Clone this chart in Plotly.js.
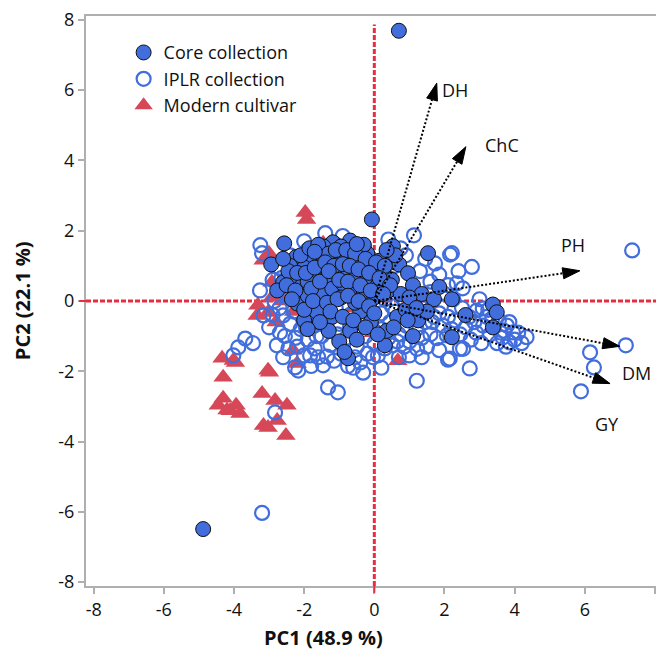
<!DOCTYPE html>
<html>
<head>
<meta charset="utf-8">
<script src="https://cdn.plot.ly/plotly-3.0.1.min.js"></script>
<style>html,body{margin:0;padding:0;background:#fff;}#chart{width:656px;height:650px;}</style>
</head>
<body>
<div id="chart"></div>
<script>
// ---- Data ----
var coreX = [0.70,-4.88,-0.07,-2.57,-2.23,-2.94,0.53,1.53,0.71,0.96,
  -1.18,-0.69,-0.95,-0.45,-1.45,-0.20,0.15,-1.75,-2.00,-2.60,
  -2.77,-2.20,-2.35,-2.05,-1.80,-1.55,-1.25,-0.85,-0.60,-0.35,
  -0.05,0.25,0.50,-1.65,-1.35,-1.05,-0.75,-0.50,-0.20,0.10,
  0.40,-1.90,-1.50,-1.20,-0.90,-0.60,-0.30,0.00,0.75,1.10,
  1.35,1.70,2.21,3.38,3.49,3.38,2.21,1.10,0.30,-0.69,
  -0.75,-1.20,-1.65,-2.00,-0.40,0.65,1.25,-1.00,-1.45,-0.30,
  -1.90,-0.95,-0.10,0.90,1.50,-1.30,-2.40,-0.55,0.35,1.85,
  -2.10,-1.85,-1.60,-1.30,-1.10,-0.80,-0.55,-0.25,0.05,0.30,
  -2.45,-2.20,-1.95,-1.70,-1.40,-1.15,-0.90,-0.70,-0.45,-0.15,
  0.15,0.45,-2.50,-2.25,-1.80,-1.55,-1.30,-1.00,-0.75,-0.40,
  -0.10,0.25,-2.35,-2.00,-1.75,-1.35,-1.05,-0.75,-0.45,-0.15,
  -1.55,-1.25,-0.90,-0.60,-0.25,0.10,0.55,0.95,-0.50,-0.85,
  0.60,0.35,-0.50,-1.70,-2.60,1.00,1.20,2.60,0.00,-1.90];
var coreY = [7.69,-6.49,2.32,1.64,1.25,1.04,1.56,1.36,1.04,0.79,
  1.67,1.72,1.55,1.50,1.45,1.35,1.15,1.20,0.95,0.53,
  0.30,-0.07,0.70,0.45,0.75,1.00,1.20,1.30,1.20,1.05,
  0.95,0.80,0.60,0.45,0.65,0.85,0.90,0.70,0.60,0.45,
  0.30,0.15,0.20,0.35,0.50,0.35,0.20,0.10,0.20,0.45,
  0.20,0.05,0.05,-0.10,-0.32,-0.75,-1.03,-1.00,-1.26,-0.85,
  -1.63,-0.45,-0.30,-0.55,-0.30,-0.45,-0.55,-1.15,1.55,1.60,
  0.55,0.10,-0.60,-0.25,-0.30,-0.85,1.00,-0.05,-0.85,0.40,
  1.30,1.50,1.60,1.35,1.45,1.45,1.35,1.20,1.10,1.00,
  0.85,0.80,0.80,0.95,1.10,1.00,1.05,1.00,0.90,0.80,
  0.65,0.45,0.45,0.30,0.35,0.55,0.85,0.60,0.55,0.45,
  0.30,0.20,0.05,-0.25,0.00,-0.05,0.05,0.15,0.00,-0.15,
  -0.60,-0.30,-0.45,-0.55,-0.75,-0.95,-0.75,-0.55,-1.10,-1.45,
  1.30,1.45,1.62,1.40,1.20,0.10,-0.20,-0.40,-0.35,-0.80];

var iplrX = [7.35,6.15,6.26,7.17,5.89,-3.20,-2.83,1.21,2.72,2.10,
  2.53,1.22,-1.04,-1.32,-3.26,-3.68,-3.46,-3.88,-4.02,-3.16,
  -2.78,-3.25,-3.20,-1.40,1.13,1.73,2.21,2.16,2.78,2.35,
  2.52,3.09,2.92,3.78,3.95,4.34,3.66,3.86,2.15,2.44,
  1.50,1.78,2.07,-2.60,-2.26,-2.17,-1.83,-1.60,-1.35,-1.46,
  -0.32,-0.60,-0.04,0.53,-2.69,-2.60,3.70,3.55,4.00,3.20,
  -2.90,-2.70,-2.45,-2.30,-2.10,-1.90,-1.70,-1.50,-1.25,-1.00,
  -0.80,-0.50,-0.25,0.00,0.20,0.45,0.70,0.90,1.20,1.45,
  1.70,1.95,2.30,2.60,2.85,2.50,1.90,1.30,0.80,0.50,
  0.20,-0.20,-0.70,-1.10,-1.50,-1.90,-2.40,-2.20,-1.70,-0.95,
  -0.55,-0.20,0.10,0.40,0.85,1.00,1.60,2.00,1.60,1.30,
  0.90,0.40,-0.90,-1.90,-2.40,-2.85,-2.55,-3.00,2.40,2.90,
  3.30,3.05,3.50,-1.20,-0.30,0.60,-0.60,-1.60,0.05,-2.00,
  0.60,0.90,1.15,1.40,1.65,1.85,2.10,2.20,2.45,2.70,
  2.75,3.10,3.35,3.60,3.85,4.10,4.20,3.75,1.35,1.00,
  0.65,0.30,0.00,-0.35,-0.70,-1.05,-1.35,-1.65,-1.95,-2.25,
  -2.45,-2.00,-1.80,-1.15,-0.75,-0.40,0.20,0.70,1.35,1.85,
  -2.70,-2.90,-2.50,-2.65,-2.20,-1.10,-0.30,0.75,1.45,1.85,
  2.10,2.25,1.60,1.10,0.30,-0.40,-1.30,-2.00,3.00,3.25];
var iplrY = [1.44,-1.46,-1.89,-1.26,-2.57,-6.03,-3.17,-2.27,-1.92,-1.67,
  -1.36,-1.36,-2.60,-2.46,0.30,-1.07,-1.20,-1.32,-1.55,-0.41,
  -1.26,1.59,1.36,1.93,1.87,1.07,1.36,1.32,0.97,0.50,
  0.36,-0.21,-0.27,-0.70,-0.89,-1.03,-1.04,-1.18,-1.64,-1.36,
  -1.30,-1.06,-0.98,-1.60,-1.89,-1.98,-1.55,-1.60,-1.58,-1.83,
  -2.04,-1.90,-1.60,-1.26,-0.90,-0.41,-0.85,-0.55,-1.10,-0.45,
  0.60,0.95,0.15,-0.30,-0.80,-1.10,-0.70,-1.00,-1.25,-0.65,
  -1.05,-1.30,-1.00,-1.20,-0.80,-0.60,-0.95,-0.70,-0.80,-0.60,
  -0.45,-0.70,-0.55,-0.75,-0.60,-0.20,-0.15,0.00,0.10,-0.15,
  -0.35,-0.45,-0.40,-0.20,-0.35,-0.45,-0.65,-1.30,-1.35,-1.50,
  -1.60,-1.50,-1.55,-1.05,-1.30,-1.55,-0.95,0.20,0.55,0.85,
  1.30,1.75,1.85,1.45,1.30,0.00,-1.00,-0.75,0.85,-0.90,
  -0.95,-1.20,-1.20,0.90,1.20,1.00,0.60,0.70,0.65,1.70,
  -0.30,-0.45,-0.35,-0.20,-0.60,-0.35,-0.45,-0.80,-0.95,-0.45,
  -1.10,-0.70,-0.55,-0.90,-0.60,-0.90,-1.20,-1.30,-1.05,-1.15,
  -1.15,-1.35,-0.85,-0.65,-0.75,-0.95,-0.75,-1.00,-0.75,-1.05,
  -1.35,-1.55,-1.85,-1.70,-1.85,-1.75,-1.90,-1.60,-1.60,-1.40,
  -0.20,-0.40,0.40,0.65,1.05,1.60,1.55,1.50,1.20,0.75,
  0.45,0.05,0.25,0.30,0.05,-0.05,0.15,0.30,0.05,-0.25];

var modernX = [-4.34,-4.02,-3.96,-4.31,-2.99,-4.31,-4.45,-4.11,-3.94,-3.83,
  -4.20,-3.20,-2.83,-2.49,-3.16,-3.03,-2.77,-2.52,-2.32,-2.20,
  0.67,-1.97,-1.93,-1.46,-3.17,-2.92,-2.92,-3.32,-3.34,-3.03,
  -3.03,-0.03,-2.30,-1.50,-0.60,-2.60,-2.80,-3.00];
var modernY = [-1.63,-1.69,-1.75,-2.17,-2.03,-2.77,-2.97,-3.12,-2.97,-3.20,
  -3.10,-2.63,-2.83,-2.97,-3.54,-3.60,-3.40,-3.83,-1.40,-1.78,
  -1.70,2.52,2.32,1.64,1.16,0.53,0.10,-0.12,-0.41,-0.33,
  -1.97,-0.90,-0.30,-0.50,-0.20,0.00,-0.60,1.35];

var loadNames = ["DH","ChC","PH","DM","GY"];
var loadX = [1.78,2.61,5.86,7.00,6.72];
var loadY = [6.20,4.39,0.86,-1.29,-2.35];

var tickVals = [-8,-6,-4,-2,0,2,4,6,8];
var tickText = ["-8","-6","-4","-2","0","2","4","6","8"];

var seriesNames = ["Core collection","IPLR collection","Modern cultivar"];

// ---- Styles ----
var FONT = '"Open Sans", "Noto Sans", sans-serif';
var BLUE = 'rgb(65,110,220)';
var RED = 'rgb(214,72,88)';
var DASHRED = 'rgb(232,45,65)';
var AXGRAY = 'rgb(175,175,175)';

var traces = [];
traces.push({
  type:'scatter', mode:'markers', name:seriesNames[2], legendrank:3,
  x:modernX, y:modernY,
  marker:{symbol:'triangle-up', size:17, color:RED, line:{width:0}}
});
traces.push({
  type:'scatter', mode:'markers', name:seriesNames[1], legendrank:2,
  x:iplrX, y:iplrY,
  marker:{symbol:'circle-open', size:14, color:BLUE, line:{width:2.2, color:BLUE}}
});
traces.push({
  type:'scatter', mode:'markers', name:seriesNames[0], legendrank:1,
  x:coreX, y:coreY,
  marker:{symbol:'circle', size:15, color:BLUE, line:{width:1, color:'#111'}}
});
for (var i=0;i<loadNames.length;i++){
  traces.push({
    type:'scatter', mode:'lines+markers', showlegend:false, hoverinfo:'skip',
    x:[0, loadX[i]], y:[0, loadY[i]],
    line:{color:'#000', width:2, dash:'2px,2px'},
    marker:{symbol:'arrow', angleref:'previous', size:[0,18], color:'#000', opacity:1,
      line:{width:1, color:'#000'}}
  });
}

var labelShift = {DH:[18,-7], ChC:[36,2], PH:[-7,26], DM:[17,-27], GY:[-3,-40]};
var annotations = loadNames.map(function(n,i){
  return {x:loadX[i], y:loadY[i], xref:'x', yref:'y', text:n, showarrow:false,
    xshift:labelShift[n][0], yshift:labelShift[n][1],
    font:{family:FONT, size:18, color:'#111'}};
});
annotations.push({xref:'paper', yref:'paper', x:0.416, y:-0.091, xanchor:'center', yanchor:'middle',
  text:'<b>PC1 (48.9 %)</b>', showarrow:false, font:{family:FONT, size:20, color:'#111'}});
annotations.push({xref:'paper', yref:'paper', x:-0.112, y:0.5, xanchor:'center', yanchor:'middle',
  text:'<b>PC2 (22.1 %)</b>', textangle:-90, showarrow:false, font:{family:FONT, size:20, color:'#111'}});

var layout = {
  width:656, height:650,
  margin:{l:86, r:0, t:16, b:64},
  paper_bgcolor:'#fff', plot_bgcolor:'#fff',
  font:{family:FONT, size:18, color:'#111'},
  showlegend:true,
  legend:{x:0.066, y:0.968, xanchor:'left', yanchor:'top', bgcolor:'rgba(0,0,0,0)',
    font:{family:FONT, size:18, color:'#111'}, traceorder:'normal', itemsizing:'trace'},
  xaxis:{range:[-8.22,8.03], tickvals:tickVals, ticktext:tickText, showgrid:false, zeroline:false,
    showline:true, mirror:true, linecolor:AXGRAY, linewidth:2, ticks:'outside', ticklen:6,
    tickwidth:2, tickcolor:AXGRAY, tickfont:{family:FONT, size:18, color:'#111'}, fixedrange:true},
  yaxis:{range:[-8.11,8.11], tickvals:tickVals, ticktext:tickText, showgrid:false, zeroline:false,
    showline:true, mirror:false, linecolor:AXGRAY, linewidth:2, ticks:'outside', ticklen:6,
    tickwidth:2, tickcolor:AXGRAY, tickfont:{family:FONT, size:18, color:'#111'}, fixedrange:true},
  shapes:[
    {type:'line', xref:'x', yref:'paper', x0:0, x1:0, y0:0, y1:0.985, layer:'below',
      line:{color:DASHRED, width:3, dash:'5px,2px'}},
    {type:'line', xref:'paper', yref:'y', x0:0, x1:1, y0:0, y1:0, layer:'below',
      line:{color:DASHRED, width:3, dash:'5px,2px'}},
    {type:'line', xref:'x', yref:'paper', x0:0, x1:0, y0:-0.012, y1:0, layer:'above',
      line:{color:DASHRED, width:2}},
    {type:'line', xref:'paper', yref:'y', x0:-0.012, x1:0, y0:0, y1:0, layer:'above',
      line:{color:DASHRED, width:2}}
  ],
  annotations:annotations
};

Plotly.newPlot('chart', traces, layout, {displayModeBar:false, staticPlot:true});
</script>
</body>
</html>
